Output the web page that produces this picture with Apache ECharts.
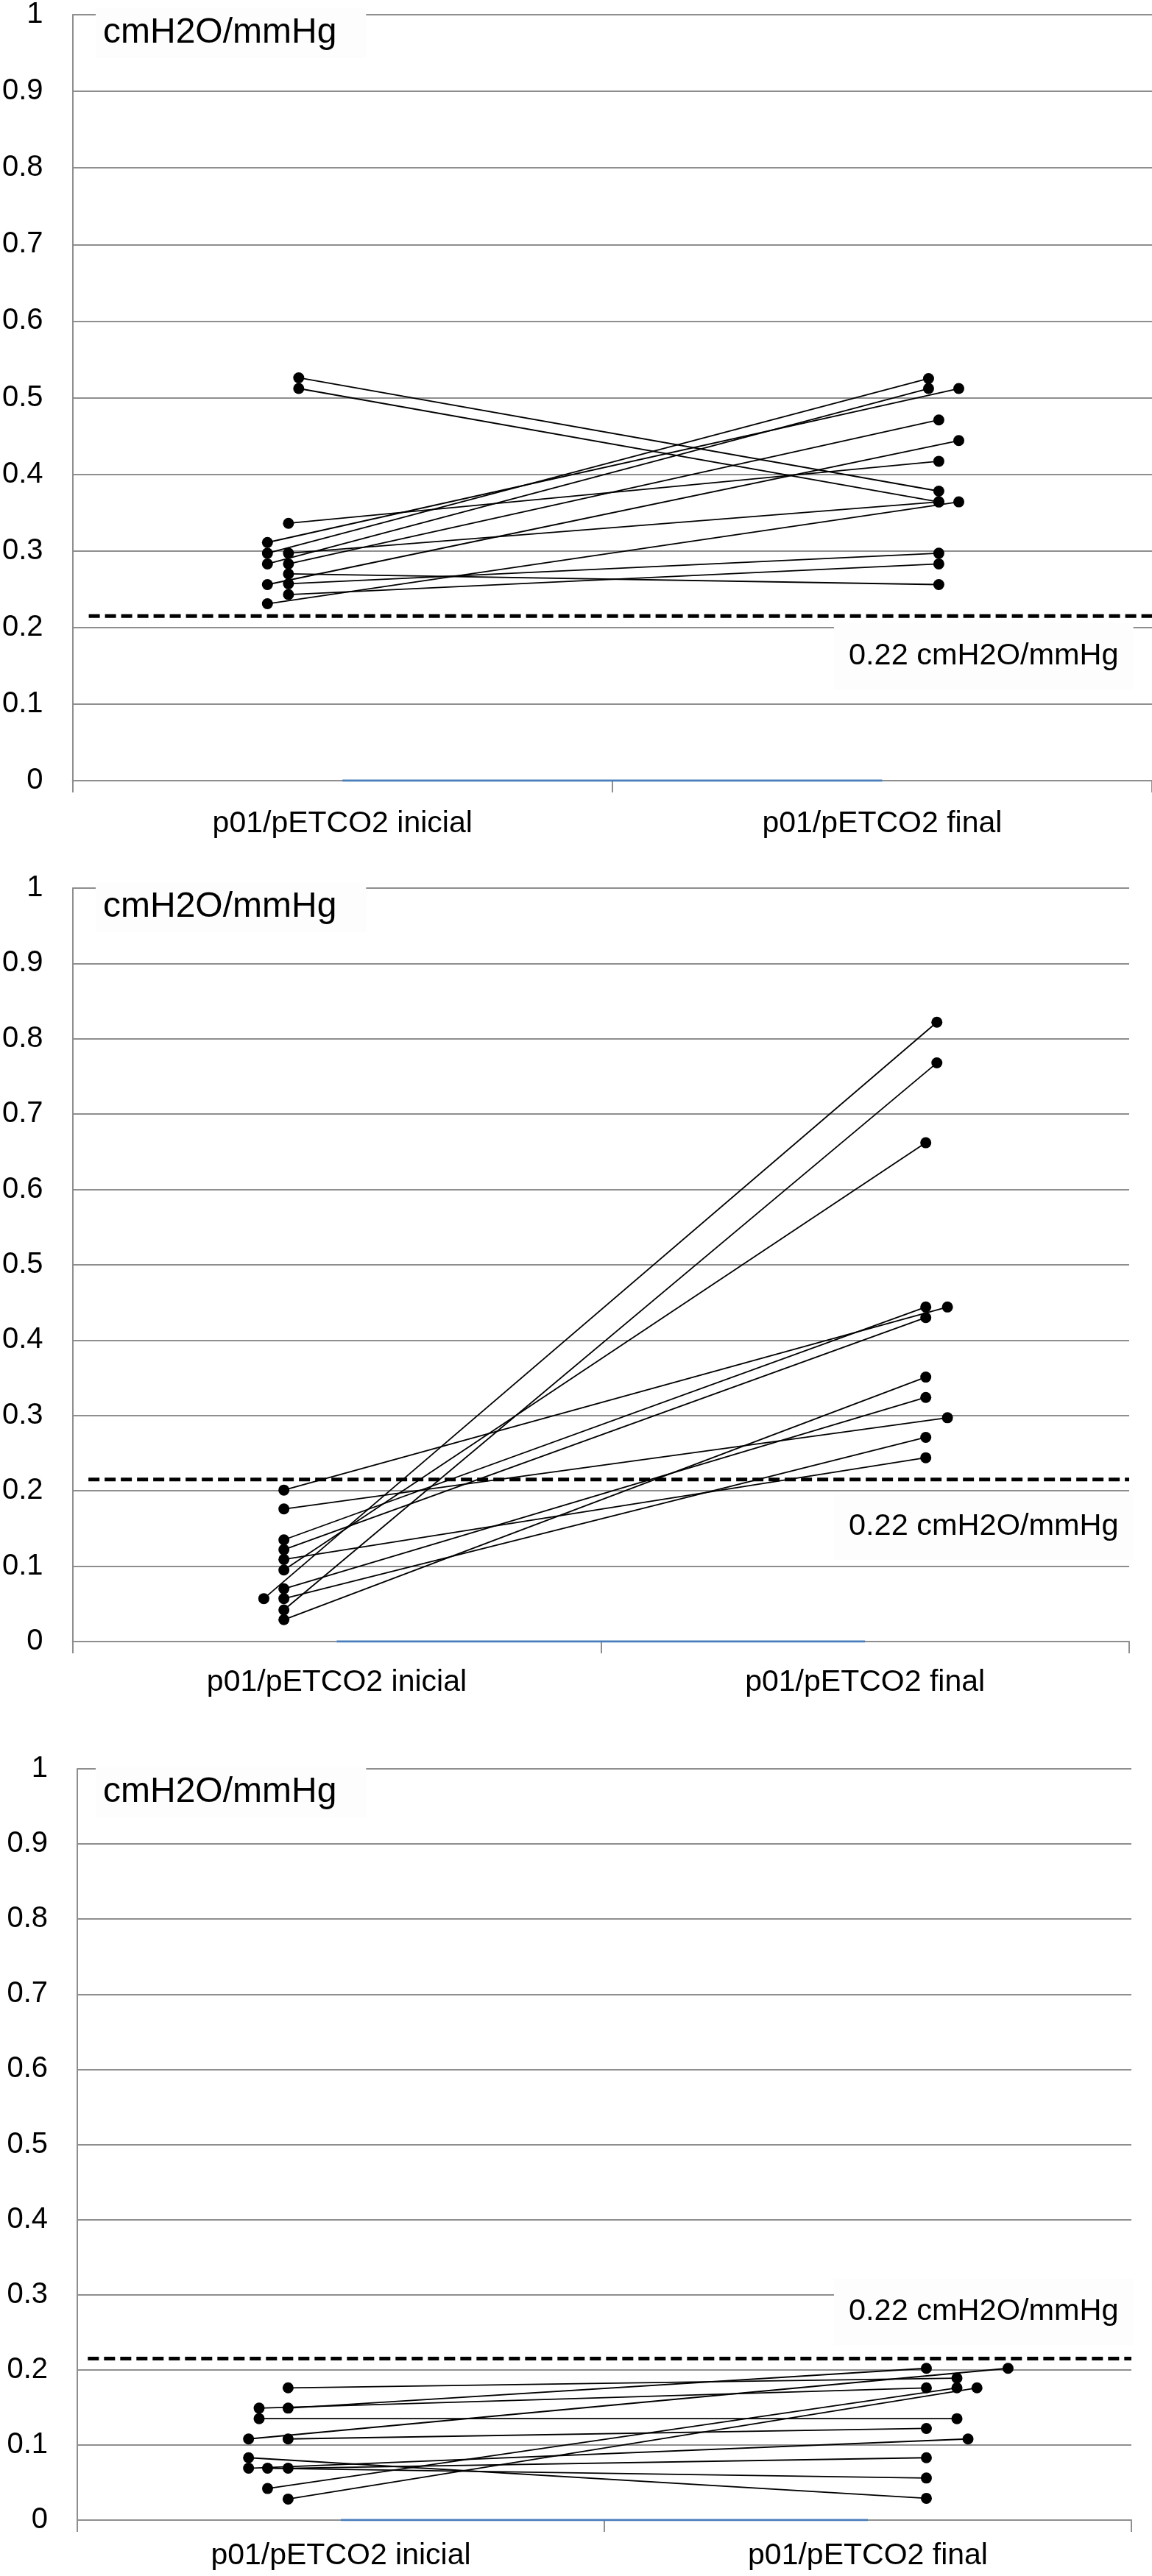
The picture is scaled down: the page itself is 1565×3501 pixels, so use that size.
<!DOCTYPE html>
<html>
<head>
<meta charset="utf-8">
<script src="https://cdn.jsdelivr.net/npm/echarts@6/dist/echarts.min.js"></script>
<style>
  html, body { margin: 0; padding: 0; background: #fff; }
  #chart { width: 1565px; height: 3501px; }
</style>
</head>
<body>
<div id="chart"></div>
<script>
// ---- data ----
const categories = ['p01/pETCO2 inicial', 'p01/pETCO2 final'];
const unitLabel = 'cmH2O/mmHg';
const thresholdLabel = '0.22 cmH2O/mmHg';
const threshold = 0.215;

// Panel 1 (pairs: initial -> final); x = position within the two-category span (0..2)
const p1InitialX = [0.419, 0.419, 0.400, 0.361, 0.361, 0.400, 0.361, 0.400, 0.400, 0.361, 0.400, 0.400, 0.361];
const p1Initial  = [0.526, 0.512, 0.336, 0.311, 0.297, 0.297, 0.283, 0.283, 0.270, 0.256, 0.257, 0.243, 0.231];
const p1FinalX   = [1.605, 1.605, 1.605, 1.642, 1.586, 1.605, 1.586, 1.605, 1.605, 1.642, 1.605, 1.605, 1.642];
const p1Final    = [0.378, 0.364, 0.417, 0.512, 0.525, 0.364, 0.512, 0.471, 0.256, 0.444, 0.297, 0.283, 0.364];

// Panel 2
const p2InitialX = [0.400, 0.400, 0.400, 0.400, 0.400, 0.400, 0.400, 0.362, 0.400, 0.400, 0.400];
const p2Initial  = [0.201, 0.176, 0.135, 0.122, 0.109, 0.095, 0.070, 0.057, 0.057, 0.042, 0.029];
const p2FinalX   = [1.656, 1.656, 1.615, 1.615, 1.615, 1.615, 1.615, 1.636, 1.615, 1.636, 1.615];
const p2Final    = [0.444, 0.297, 0.444, 0.430, 0.244, 0.662, 0.324, 0.822, 0.271, 0.768, 0.351];

// Panel 3
const p3InitialX = [0.400, 0.345, 0.400, 0.345, 0.325, 0.400, 0.325, 0.325, 0.361, 0.400, 0.361, 0.400];
const p3Initial  = [0.176, 0.149, 0.149, 0.135, 0.108, 0.108, 0.083, 0.069, 0.069, 0.069, 0.042, 0.028];
const p3FinalX   = [1.669, 1.611, 1.611, 1.669, 1.766, 1.611, 1.611, 1.690, 1.611, 1.611, 1.669, 1.707];
const p3Final    = [0.189, 0.176, 0.202, 0.135, 0.202, 0.122, 0.029, 0.108, 0.056, 0.083, 0.176, 0.176];

const baseLine = [[0.5, 0], [1.5, 0]];

// ---- layout / style ----
const FONT = "'Liberation Sans', Arial, Helvetica, sans-serif";
const GRAY = '#8e8e8e';
const panels = [
  { ix: p1InitialX, iv: p1Initial, fx: p1FinalX, fv: p1Final, grid: { left: 98, top: 15, width: 1474, height: 1046 }, labelMargin: 38, dashStart: 0.03,
    title: { x: 140, y: 45 }, thr: { x: 1153, y: 892 } },
  { ix: p2InitialX, iv: p2Initial, fx: p2FinalX, fv: p2Final, grid: { left: 98, top: 1207, width: 1436, height: 1024 }, labelMargin: 35, dashStart: 0.03,
    title: { x: 140, y: 1233 }, thr: { x: 1153, y: 2075 } },
  { ix: p3InitialX, iv: p3Initial, fx: p3FinalX, fv: p3Final, grid: { left: 105, top: 2404, width: 1432, height: 1021 }, labelMargin: 28, dashStart: 0.02,
    title: { x: 140, y: 2436 }, thr: { x: 1153, y: 3142 } }
];

const grids = [], xAxes = [], yAxes = [], series = [], graphics = [];
panels.forEach((p, k) => {
  grids.push(Object.assign({ containLabel: false }, p.grid));
  xAxes.push({
    type: 'category', gridIndex: k, data: categories, boundaryGap: true,
    axisLine: { show: true, lineStyle: { color: GRAY, width: 2 } },
    axisTick: { show: true, length: 16, lineStyle: { color: GRAY, width: 2 } },
    axisLabel: { fontSize: 41, fontFamily: FONT, color: '#000', margin: p.labelMargin },
    splitLine: { show: false }
  });
  xAxes.push({ type: 'value', gridIndex: k, min: 0, max: 2, show: false });
  yAxes.push({
    type: 'value', gridIndex: k, min: 0, max: 1, interval: 0.1,
    axisLine: { show: true, lineStyle: { color: GRAY, width: 2 } },
    axisTick: { show: false },
    axisLabel: { fontSize: 40, fontFamily: FONT, color: '#000', margin: 40, padding: [12, 0, 0, 0],
      formatter: v => String(Math.round(v * 10) / 10) },
    splitLine: { show: true, lineStyle: { color: GRAY, width: 2 } }
  });
  const xi = 2 * k + 1;
  series.push({
    type: 'line', xAxisIndex: xi, yAxisIndex: k, data: baseLine, symbol: 'none',
    lineStyle: { color: '#4a7ebb', width: 3 }, z: 1, silent: true
  });
  series.push({
    type: 'line', xAxisIndex: xi, yAxisIndex: k, data: [[p.dashStart, threshold], [2, threshold]], symbol: 'none',
    lineStyle: { color: '#000', width: 5, type: [15, 7] }, z: 2, silent: true
  });
  p.iv.forEach((v, i) => {
    series.push({
      type: 'line', xAxisIndex: xi, yAxisIndex: k,
      data: [[p.ix[i], v], [p.fx[i], p.fv[i]]],
      symbol: 'circle', symbolSize: 15, showSymbol: true,
      lineStyle: { color: '#000', width: 1.8 },
      itemStyle: { color: '#000' }, z: 3, silent: true
    });
  });
  graphics.push({
    type: 'text', x: p.title.x - 10, y: p.title.y, z: 10,
    style: { text: unitLabel, font: '48px ' + FONT, fill: '#000', verticalAlign: 'middle',
      backgroundColor: '#fdfdfd', padding: [10, 40, 10, 10] }
  });
  graphics.push({
    type: 'text', x: p.thr.x - 20, y: p.thr.y, z: 10,
    style: { text: thresholdLabel, font: '41.5px ' + FONT, fill: '#000', verticalAlign: 'middle',
      backgroundColor: '#fdfdfd', padding: [24, 20, 24, 20] }
  });
});

const chart = echarts.init(document.getElementById('chart'), null, { renderer: 'canvas' });
chart.setOption({
  backgroundColor: '#ffffff',
  animation: false,
  grid: grids,
  xAxis: xAxes,
  yAxis: yAxes,
  series: series,
  graphic: graphics
});
</script>
</body>
</html>
